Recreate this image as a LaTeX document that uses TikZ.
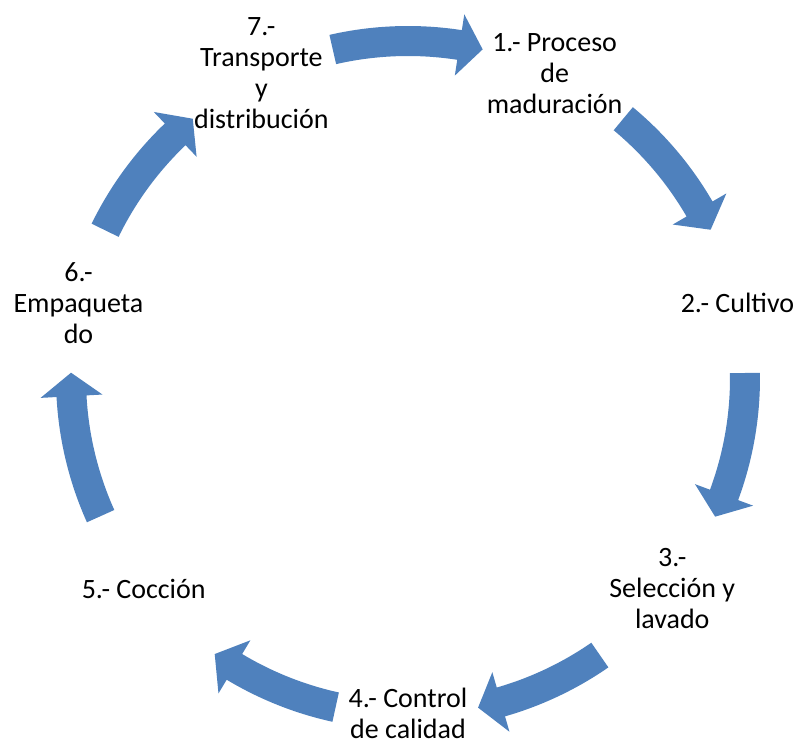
\documentclass[tikz,border=0pt]{standalone}
\usepackage{fontspec}
\setmainfont{Carlito}
\usetikzlibrary{calc}
\definecolor{arrowblue}{HTML}{4F81BD}

\begin{document}
\begin{tikzpicture}[stage node/.style={align=center,inner sep=0pt,font=\fontsize{28}{31}\selectfont},
	cycle arrow/.style={fill=arrowblue}]
	
	\useasboundingbox (0,0) rectangle (795pt,742pt);
	\coordinate (centre) at (408pt,364pt);
	
	\node[stage node] (1) at ($(centre)+(64.29:338pt)$) {1.- Proceso\\de\\maduración};
	\node[stage node] (2) at ($(centre)+(12.86:338pt)$) {2.- Cultivo};
	\node[stage node] (3) at ($(centre)+(-38.57:338pt)$) {3.-\\Selección y\\lavado};
	\node[stage node] (4) at ($(centre)+(-90:335pt)$) {4.- Control\\de calidad};
	\node[stage node] (5) at ($(centre)+(-141.43:338pt)$) {5.- Cocción};
	\node[stage node] (6) at ($(centre)+(-192.86:338pt)$) {6.-\\Empaqueta\\do};
	\node[stage node] (7) at ($(centre)+(-244.29:338pt)$) {7.-\\Transporte\\y\\distribución};
	
	\foreach \tailang/\tipang [evaluate=\tipang as \baseang using \tipang+4] in
		{102.9/77.2, 50.3/26.1, 0.85/-24.3, -55.3/-78, -102.4/-125, -155.8/-180.9, 154/129.7}
	\fill[cycle arrow] ($(centre)+(\tailang:352pt)$) arc[start angle=\tailang, end angle=\baseang, radius=352pt]
		-- ($(centre)+(\baseang:368pt)$) -- ($(centre)+(\tipang:337pt)$) -- ($(centre)+(\baseang:306pt)$)
		-- ($(centre)+(\baseang:322pt)$) arc[start angle=\baseang, end angle=\tailang, radius=322pt] -- cycle;
	
\end{tikzpicture}
\end{document}
